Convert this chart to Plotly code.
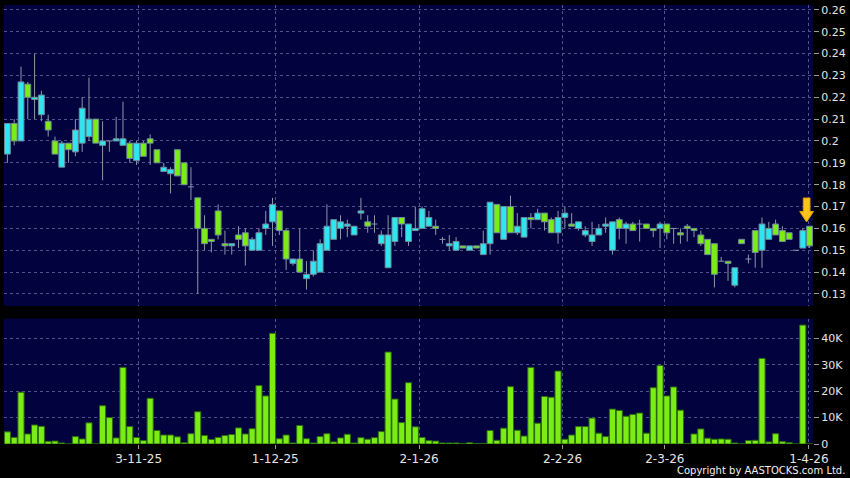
import plotly.graph_objects as go

# ---------------- data ----------------
opens = [0.194, 0.208, 0.200, 0.226, 0.219, 0.212, 0.209, 0.200, 0.188, 0.199,
         0.195, 0.199, 0.202, 0.210, 0.198, 0.200, 0.200, 0.198, 0.199, 0.191,
         0.199, 0.201, 0.196, 0.186, 0.185, 0.196, 0.190, 0.179, 0.174, 0.160,
         0.155, 0.168, 0.153, 0.152, 0.157, 0.158, 0.150, 0.150, 0.160, 0.163,
         0.168, 0.159, 0.144, 0.146, 0.137, 0.139, 0.140, 0.150, 0.155, 0.160,
         0.161, 0.157, 0.167, 0.163, 0.162, 0.153, 0.142, 0.154, 0.165, 0.154,
         0.159, 0.160, 0.161, 0.161, 0.155, 0.152, 0.150, 0.152, 0.150, 0.152,
         0.148, 0.153, 0.171, 0.155, 0.170, 0.158, 0.156, 0.165, 0.164, 0.167,
         0.164, 0.158, 0.165, 0.162, 0.160, 0.157, 0.154, 0.157, 0.161, 0.150,
         0.164, 0.160, 0.162, 0.162, 0.162, 0.160, 0.160, 0.162, 0.160, 0.158,
         0.161, 0.160, 0.157, 0.155, 0.153, 0.145, 0.145, 0.134, 0.155, 0.146,
         0.159, 0.150, 0.155, 0.162, 0.159, 0.158, 0.150, 0.151, 0.161]
highs = [0.208, 0.210, 0.234, 0.227, 0.240, 0.223, 0.212, 0.202, 0.200, 0.199,
         0.210, 0.220, 0.229, 0.210, 0.209, 0.200, 0.211, 0.218, 0.200, 0.200,
         0.200, 0.203, 0.196, 0.190, 0.188, 0.196, 0.190, 0.188, 0.174, 0.166,
         0.155, 0.171, 0.159, 0.153, 0.161, 0.160, 0.156, 0.160, 0.168, 0.174,
         0.168, 0.160, 0.146, 0.160, 0.145, 0.150, 0.155, 0.171, 0.164, 0.166,
         0.164, 0.161, 0.174, 0.166, 0.166, 0.159, 0.166, 0.165, 0.165, 0.162,
         0.170, 0.170, 0.168, 0.164, 0.156, 0.157, 0.156, 0.152, 0.152, 0.152,
         0.159, 0.172, 0.171, 0.170, 0.175, 0.167, 0.165, 0.167, 0.169, 0.167,
         0.165, 0.168, 0.170, 0.167, 0.163, 0.161, 0.163, 0.162, 0.165, 0.163,
         0.165, 0.163, 0.163, 0.164, 0.162, 0.160, 0.163, 0.162, 0.160, 0.160,
         0.162, 0.160, 0.159, 0.155, 0.153, 0.147, 0.145, 0.142, 0.155, 0.148,
         0.159, 0.165, 0.163, 0.164, 0.161, 0.158, 0.150, 0.160, 0.161]
lows = [0.190, 0.198, 0.200, 0.210, 0.210, 0.209, 0.202, 0.194, 0.188, 0.190,
        0.193, 0.195, 0.200, 0.199, 0.182, 0.195, 0.200, 0.198, 0.190, 0.189,
        0.193, 0.189, 0.190, 0.186, 0.176, 0.184, 0.180, 0.173, 0.130, 0.150,
        0.149, 0.155, 0.148, 0.148, 0.151, 0.143, 0.150, 0.150, 0.157, 0.152,
        0.157, 0.141, 0.143, 0.140, 0.132, 0.138, 0.140, 0.150, 0.155, 0.155,
        0.156, 0.157, 0.164, 0.158, 0.158, 0.152, 0.142, 0.152, 0.156, 0.152,
        0.159, 0.160, 0.161, 0.157, 0.153, 0.150, 0.150, 0.151, 0.150, 0.151,
        0.148, 0.148, 0.158, 0.155, 0.158, 0.157, 0.156, 0.160, 0.164, 0.159,
        0.158, 0.153, 0.160, 0.161, 0.159, 0.156, 0.152, 0.157, 0.158, 0.148,
        0.155, 0.153, 0.159, 0.154, 0.160, 0.156, 0.151, 0.155, 0.153, 0.153,
        0.154, 0.156, 0.152, 0.148, 0.133, 0.145, 0.136, 0.133, 0.153, 0.144,
        0.142, 0.142, 0.155, 0.157, 0.154, 0.155, 0.150, 0.151, 0.151]
closes = [0.208, 0.200, 0.227, 0.220, 0.220, 0.221, 0.205, 0.194, 0.199, 0.196,
          0.205, 0.215, 0.210, 0.199, 0.200, 0.200, 0.201, 0.201, 0.192, 0.199,
          0.193, 0.199, 0.190, 0.188, 0.187, 0.184, 0.180, 0.179, 0.160, 0.153,
          0.154, 0.157, 0.152, 0.153, 0.155, 0.152, 0.155, 0.158, 0.162, 0.171,
          0.159, 0.146, 0.146, 0.140, 0.139, 0.145, 0.153, 0.161, 0.164, 0.163,
          0.162, 0.161, 0.168, 0.161, 0.162, 0.157, 0.157, 0.165, 0.162, 0.162,
          0.160, 0.169, 0.165, 0.160, 0.155, 0.153, 0.154, 0.151, 0.152, 0.151,
          0.153, 0.172, 0.158, 0.170, 0.158, 0.161, 0.165, 0.164, 0.167, 0.163,
          0.158, 0.165, 0.167, 0.161, 0.163, 0.159, 0.157, 0.160, 0.162, 0.163,
          0.160, 0.162, 0.159, 0.162, 0.160, 0.159, 0.162, 0.158, 0.160, 0.157,
          0.160, 0.159, 0.153, 0.148, 0.139, 0.145, 0.144, 0.142, 0.153, 0.146,
          0.149, 0.162, 0.160, 0.157, 0.154, 0.155, 0.150, 0.159, 0.152]
volumes = [4600, 2500, 19600, 3800, 7200, 6700, 1000, 1100, 400, 0,
           2800, 1900, 8000, 0, 14500, 10000, 2300, 29000, 6600, 2500,
           1300, 17300, 5100, 3400, 3400, 2700, 500, 3900, 12200, 3200,
           1700, 2500, 3200, 3600, 6100, 3800, 5800, 22100, 18200, 41900,
           2000, 3400, 400, 7000, 2000, 400, 2800, 3900, 800, 2300,
           3700, 400, 2400, 1800, 2400, 4700, 34800, 17000, 8100, 23200,
           6500, 2500, 1300, 1100, 400, 400, 400, 100, 500, 200,
           200, 5100, 1400, 6000, 21700, 5200, 3000, 29000, 7900, 18000,
           17700, 27600, 1800, 3400, 6600, 6600, 9800, 4100, 2800, 13200,
           12700, 10500, 11200, 11700, 4100, 21300, 29700, 18200, 21600, 12800,
           200, 3800, 5700, 2200, 1800, 1900, 1800, 400, 0, 1300,
           1400, 32400, 800, 3900, 900, 500, 0, 45000, 0]

date_labels = ["3-11-25", "1-12-25", "2-1-26", "2-2-26", "2-3-26", "1-4-26"]
date_positions = [19.3, 39.4, 60.55, 81.65, 96.7, 117.9]
price_ticks = [0.13, 0.14, 0.15, 0.16, 0.17, 0.18, 0.19, 0.20, 0.21, 0.22, 0.23, 0.24, 0.25, 0.26]
price_tick_text = ["0.13", "0.14", "0.15", "0.16", "0.17", "0.18", "0.19", "0.2",
                   "0.21", "0.22", "0.23", "0.24", "0.25", "0.26"]
vol_ticks = [0, 10000, 20000, 30000, 40000]
vol_tick_text = ["0", "10K", "20K", "30K", "40K"]

n = len(closes)
x = list(range(n))

# ---------------- style ----------------
NAVY = "#02023f"
GRID = "#50528a"
CYAN = "#2ee6f0"
GREEN = "#7bec14"
WICK = "#8c98a8"
BODY_EDGE = "#6f8a98"
TXT = "#e4e4e4"
BODY_W = 0.86

W, H = 850, 478
ML, MR, MT, MB = 4, 37, 5, 34
PW, PH = W - ML - MR, H - MT - MB


def px_x(p):
    return (p - ML) / PW


def px_y(p):
    return (H - MB - p) / PH


price_dom = [px_y(306), 1.0]
vol_dom = [0.0, px_y(318.5)]

# candle bodies and wicks (built from the OHLC lists)
up_x, up_base, up_h = [], [], []
dn_x, dn_base, dn_h = [], [], []
doji_x, doji_y = [], []
wick_x, wick_y = [], []
for i, (o, h, l, c) in enumerate(zip(opens, highs, lows, closes)):
    top, bot = max(o, c), min(o, c)
    if c > o:
        up_x.append(i); up_base.append(o); up_h.append(c - o)
    elif c < o:
        dn_x.append(i); dn_base.append(c); dn_h.append(o - c)
    else:
        doji_x += [i - BODY_W / 2, i + BODY_W / 2, None]
        doji_y += [o, o, None]
    if h > top:
        wick_x += [i, i, None]; wick_y += [top, h, None]
    if l < bot:
        wick_x += [i, i, None]; wick_y += [l, bot, None]

fig = go.Figure()
fig.add_trace(go.Bar(x=up_x, y=up_h, base=up_base, width=BODY_W,
                     marker=dict(color=CYAN, line=dict(color=BODY_EDGE, width=1)),
                     xaxis="x", yaxis="y", showlegend=False, hoverinfo="skip"))
fig.add_trace(go.Bar(x=dn_x, y=dn_h, base=dn_base, width=BODY_W,
                     marker=dict(color=GREEN, line=dict(color=BODY_EDGE, width=1)),
                     xaxis="x", yaxis="y", showlegend=False, hoverinfo="skip"))
fig.add_trace(go.Scatter(x=wick_x, y=wick_y, mode="lines",
                         line=dict(color=WICK, width=1),
                         xaxis="x", yaxis="y", showlegend=False, hoverinfo="skip"))
fig.add_trace(go.Scatter(x=doji_x, y=doji_y, mode="lines",
                         line=dict(color=WICK, width=1),
                         xaxis="x", yaxis="y", showlegend=False, hoverinfo="skip"))
fig.add_trace(go.Bar(x=x, y=volumes, width=0.9,
                     marker=dict(color=GREEN, line=dict(color="#2b6a10", width=1)),
                     xaxis="x2", yaxis="y2", showlegend=False, hoverinfo="skip"))

xcommon = dict(
    range=[-0.5, 118.5], tickmode="array", tickvals=date_positions,
    showgrid=True, gridcolor=GRID, griddash="3px,3px", gridwidth=1,
    zeroline=False, showline=False, fixedrange=True,
)
fig.update_layout(
    width=W, height=H,
    margin=dict(l=ML, r=MR, t=MT, b=MB),
    paper_bgcolor="black", plot_bgcolor="black",
    font=dict(family="DejaVu Sans", color=TXT, size=11),
    barmode="overlay",
    hovermode=False,
    xaxis=dict(**xcommon, domain=[0, 1], anchor="y", showticklabels=False, ticks=""),
    xaxis2=dict(**xcommon, domain=[0, 1], anchor="y2", ticktext=date_labels,
                showticklabels=True, ticks="outside", ticklen=4, tickcolor="#9a9a9a",
                tickfont=dict(size=12, color=TXT)),
    yaxis=dict(domain=price_dom, range=[0.1245, 0.2622], side="right",
               tickmode="array", tickvals=price_ticks, ticktext=price_tick_text,
               ticks="outside", ticklen=5, tickcolor="#9a9a9a", fixedrange=True,
               showgrid=True, gridcolor=GRID, griddash="3px,3px",
               zeroline=False, showline=False, tickfont=dict(size=11, color=TXT)),
    yaxis2=dict(domain=vol_dom, range=[0, 47500], side="right",
                tickmode="array", tickvals=vol_ticks, ticktext=vol_tick_text,
                ticks="outside", ticklen=5, tickcolor="#9a9a9a", fixedrange=True,
                showgrid=True, gridcolor=GRID, griddash="3px,3px",
                zeroline=False, showline=False, tickfont=dict(size=11, color=TXT)),
    shapes=[
        dict(type="rect", xref="paper", yref="paper", x0=0, x1=1,
             y0=price_dom[0], y1=price_dom[1], fillcolor=NAVY, line_width=0, layer="below"),
        dict(type="rect", xref="paper", yref="paper", x0=0, x1=1,
             y0=vol_dom[0], y1=vol_dom[1], fillcolor=NAVY, line_width=0, layer="below"),
        dict(type="path", xref="paper", yref="paper",
             path=("M {a},{t} L {b},{t} L {b},{m} L {c},{m} L {d},{bt} L {e},{m} L {a},{m} Z"
                   .format(a=px_x(803.3), b=px_x(810), c=px_x(813.5), d=px_x(806.6),
                           e=px_x(799.7), t=px_y(198), m=px_y(211.5), bt=px_y(222))),
             fillcolor="#ffc419", line=dict(color="#e09a00", width=1), layer="above"),
    ],
    annotations=[
        dict(text="Copyright by AASTOCKS.com Ltd.", xref="paper", yref="paper",
             x=px_x(847), y=px_y(470), xanchor="right", yanchor="middle",
             showarrow=False, font=dict(size=10, color="#f0f0f0")),
    ],
)

fig.write_html(
    "out.html",
    config={"displayModeBar": False, "staticPlot": True},
    post_script=("document.body.style.margin='0';document.body.style.padding='0';"
                 "document.body.style.background='black';"
                 "document.body.style.overflow='hidden';"),
)
